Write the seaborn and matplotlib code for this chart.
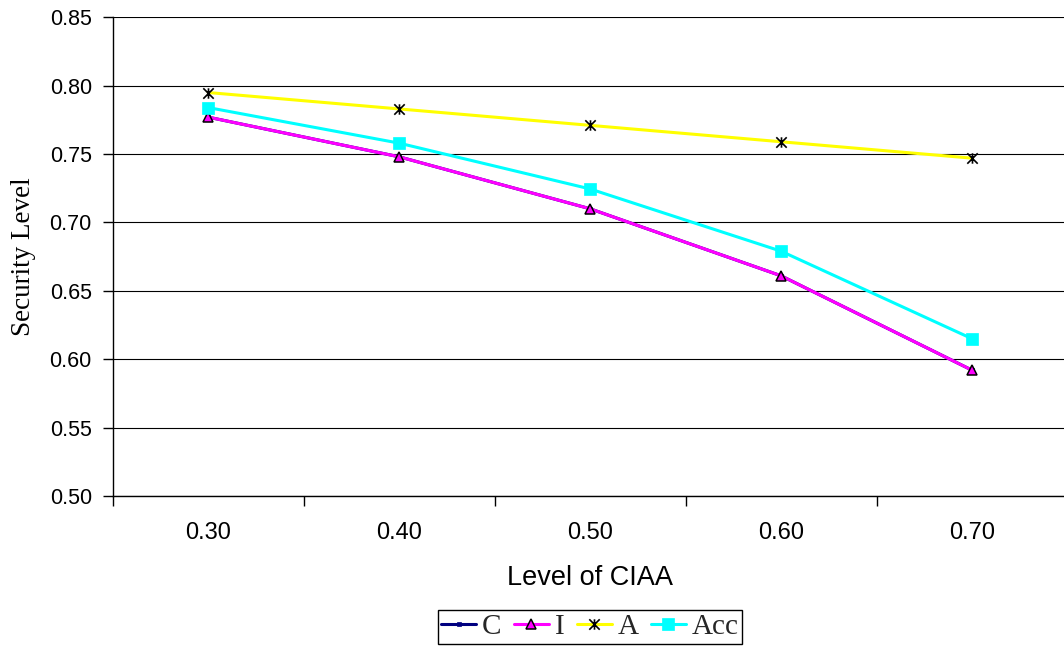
import matplotlib
matplotlib.use("Agg")
import matplotlib.pyplot as plt
from matplotlib.path import Path
from matplotlib.ticker import FixedLocator, NullFormatter, FixedFormatter, MultipleLocator
import pandas as pd
import seaborn as sns

# Data
levels = ["0.30", "0.40", "0.50", "0.60", "0.70"]
c_vals = [0.777, 0.748, 0.710, 0.661, 0.592]
i_vals = [0.777, 0.748, 0.710, 0.661, 0.592]
a_vals = [0.795, 0.783, 0.771, 0.759, 0.747]
acc_vals = [0.784, 0.758, 0.7245, 0.679, 0.615]
series_names = ["C", "I", "A", "Acc"]

sns.set_theme(style="white")
plt.rcParams["font.family"] = ["Liberation Sans", "DejaVu Sans"]

pos = list(range(len(levels)))
df = pd.DataFrame({
    "pos": pos * 4,
    "value": c_vals + i_vals + a_vals + acc_vals,
    "series": sum([[s] * len(levels) for s in series_names], []),
})

# asterisk-like marker: an X crossed by a vertical bar
star = Path(
    [(-1, -1), (1, 1), (-1, 1), (1, -1), (0, -1), (0, 1)],
    [Path.MOVETO, Path.LINETO, Path.MOVETO, Path.LINETO, Path.MOVETO, Path.LINETO],
)

styles = {
    "C": dict(color="#000080", marker="s", markersize=3.5, markerfacecolor="#000080",
              markeredgecolor="#000080", markeredgewidth=0.5, linewidth=2.2),
    "I": dict(color="#FF00FF", marker="^", markersize=7, markerfacecolor="#FF00FF",
              markeredgecolor="black", markeredgewidth=1.1, linewidth=2.2),
    "A": dict(color="#FFFF00", marker=star, markersize=7.5, markerfacecolor="none",
              markeredgecolor="black", markeredgewidth=1.2, linewidth=2.2),
    "Acc": dict(color="#00FFFF", marker="s", markersize=8.5, markerfacecolor="#00FFFF",
                markeredgecolor="#00FFFF", markeredgewidth=0.5, linewidth=2.2),
}

W, H = 1064, 648
fig = plt.figure(figsize=(W / 100, H / 100), dpi=100)
ax = fig.add_axes([112.7 / W, 1 - 496 / H, (1067.5 - 112.7) / W, (496 - 17.3) / H])

for name in series_names:
    sub = df[df["series"] == name]
    sns.lineplot(data=sub, x="pos", y="value", ax=ax, label=name,
                 legend=False, **styles[name])

ax.set_xlim(-0.5, len(levels) - 0.5)
ax.set_ylim(0.50, 0.85)
ax.yaxis.set_major_locator(MultipleLocator(0.05))
ax.yaxis.set_major_formatter(plt.FuncFormatter(lambda v, p: f"{v:.2f}"))

# category boundaries carry the tick marks, category centres carry the labels
ax.xaxis.set_major_locator(FixedLocator([p - 0.5 for p in pos] + [len(levels) - 0.5]))
ax.xaxis.set_major_formatter(NullFormatter())
ax.xaxis.set_minor_locator(FixedLocator(pos))
ax.xaxis.set_minor_formatter(FixedFormatter(levels))
ax.tick_params(axis="x", which="major", direction="out", length=7, width=1, color="black",
               bottom=True)
ax.tick_params(axis="x", which="minor", length=0, pad=19, labelsize=17, labelcolor="black",
               bottom=True)
ax.tick_params(axis="y", which="major", direction="out", length=7, width=1, color="black",
               pad=8, labelsize=15.5, labelcolor="black", left=True)

ax.grid(axis="y", color="black", linewidth=0.8)
ax.set_axisbelow(True)
for side in ["top", "right"]:
    ax.spines[side].set_visible(False)
for side in ["left", "bottom"]:
    ax.spines[side].set_color("black")
    ax.spines[side].set_linewidth(1.0)

ax.set_xlabel("Level of CIAA", fontsize=19.5, color="black", labelpad=15)
ax.set_ylabel("Security Level", fontsize=19.5, color="black",
              family=["Liberation Serif", "DejaVu Serif"], labelpad=9.5)

handles, labels = ax.get_legend_handles_labels()
leg = fig.legend(handles, labels, loc="center", bbox_to_anchor=(590 / W, 1 - 627 / H),
                 ncol=4, frameon=True, fancybox=False, framealpha=1,
                 prop={"family": ["Liberation Serif", "DejaVu Serif"], "size": 21},
                 handlelength=1.2, handletextpad=0.2, columnspacing=0.42,
                 borderpad=0.12, borderaxespad=0)
leg.get_frame().set_edgecolor("black")
leg.get_frame().set_linewidth(1.0)

fig.savefig("out.png", dpi=100)
